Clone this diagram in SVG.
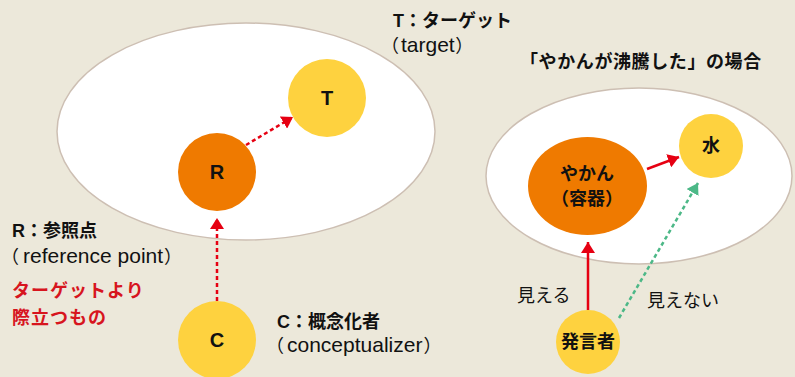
<svg xmlns="http://www.w3.org/2000/svg" width="795" height="377" viewBox="0 0 795 377">
<defs>
<style>
.bg{fill:#ECE8DA}
.field{fill:#FFFFFF;stroke:#CDBFB3;stroke-width:1.5}
.orange{fill:#EF7A00}
.yellow{fill:#FED23F}
text{font-family:"Liberation Sans","Noto Sans CJK JP",sans-serif;fill:#111;font-size:18px}
.b{font-weight:bold}
.lt{font-size:21px}
.lbl{font-weight:bold;text-anchor:middle;dominant-baseline:central}
.red{fill:#D7151E;letter-spacing:1px}
.dr{fill:none;stroke:#E60012;stroke-width:2.5;stroke-dasharray:4 3}
.sr{fill:none;stroke:#E60012;stroke-width:2.5}
.dg{fill:none;stroke:#4CB887;stroke-width:2.5;stroke-dasharray:4 3}
</style>
<marker id="ar" viewBox="0 0 11 14" refX="11" refY="7" markerWidth="11" markerHeight="14" markerUnits="userSpaceOnUse" orient="auto"><path d="M0,0 L11,7 L0,14 Z" fill="#E60012"/></marker>
<marker id="ag" viewBox="0 0 11 14" refX="11" refY="7" markerWidth="11" markerHeight="14" markerUnits="userSpaceOnUse" orient="auto"><path d="M0,0 L11,7 L0,14 Z" fill="#4CB887"/></marker>
</defs>
<rect class="bg" x="0" y="0" width="795" height="377"/>
<g id="field-left"><ellipse class="field" cx="246" cy="131.5" rx="189" ry="108.5"/></g>
<g id="field-right"><ellipse class="field" cx="639" cy="176" rx="153" ry="88"/></g>
<g id="connectors">
<line class="dr" x1="246" y1="145" x2="293" y2="117" marker-end="url(#ar)"/>
<line class="dr" x1="217" y1="301" x2="217" y2="218" marker-end="url(#ar)"/>
<line class="sr" x1="647" y1="169" x2="679" y2="157" marker-end="url(#ar)"/>
<line class="sr" x1="588" y1="310" x2="588" y2="242" marker-end="url(#ar)"/>
<line class="dg" x1="619" y1="318" x2="698" y2="183" marker-end="url(#ag)"/>
</g>
<g id="node-T"><circle class="yellow" cx="327" cy="98" r="39"/><text class="lbl" x="327" y="98" style="font-size:20px">T</text></g>
<g id="node-R"><circle class="orange" cx="217" cy="172" r="39"/><text class="lbl" x="217" y="172" style="font-size:20px">R</text></g>
<g id="node-C"><circle class="yellow" cx="217" cy="340" r="39"/><text class="lbl" x="217" y="340" style="font-size:20px">C</text></g>
<g id="node-kettle"><ellipse class="orange" cx="587.5" cy="186" rx="59.5" ry="49"/><text class="lbl" x="587" y="174">やかん</text><text class="lbl" x="587" y="199">（容器）</text></g>
<g id="node-water"><circle class="yellow" cx="711" cy="146" r="32"/><text class="lbl" x="711" y="146">水</text></g>
<g id="node-speaker"><circle class="yellow" cx="588" cy="342" r="32"/><text class="lbl" x="588" y="342">発言者</text></g>
<g id="labels">
<text class="b" x="393" y="27">T：ターゲット</text>
<text x="381" y="52">（<tspan class="lt" dx="2">target</tspan><tspan dx="0.5">）</tspan></text>
<text class="b" x="520" y="68" style="letter-spacing:0.6px">「やかんが沸騰した」の場合</text>
<text class="b" x="12" y="237">R：参照点</text>
<text x="1" y="263">（<tspan class="lt" dx="4">reference point</tspan><tspan dx="1">）</tspan></text>
<text class="b red" x="12" y="297">ターゲットより</text>
<text class="b red" x="12" y="324">際立つもの</text>
<text class="b" x="277" y="328">C：概念化者</text>
<text x="266" y="352">（<tspan class="lt" dx="3">conceptualizer</tspan><tspan dx="1">）</tspan></text>
<text x="517" y="302">見える</text>
<text x="647" y="307">見えない</text>
</g>
</svg>
